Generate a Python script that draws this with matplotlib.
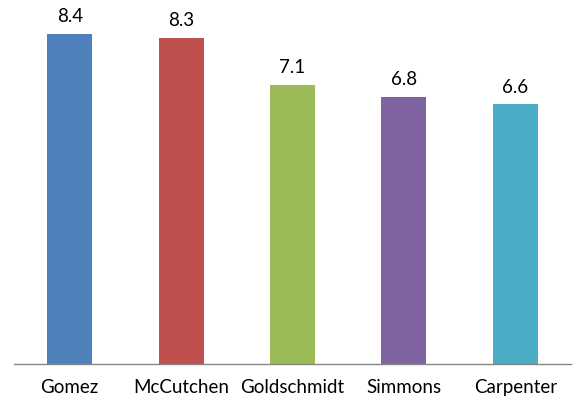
import matplotlib.pyplot as plt

names = ["Gomez", "McCutchen", "Goldschmidt", "Simmons", "Carpenter"]
scores = [8.4, 8.3, 7.1, 6.8, 6.6]
colors = ["#4F81BD", "#C0504D", "#9BBB59", "#8064A2", "#4BACC6"]

plt.rcParams['font.family'] = ['Lato', 'DejaVu Sans']

fig = plt.figure(figsize=(5.74, 4.0), dpi=100)
# axes placed in pixel terms: x 14..571, y baseline at 364
ax = fig.add_axes([14/574, (400-364)/400, 557/574, 354/400])

x = range(len(names))
bars = ax.bar(x, scores, width=0.405, color=colors)
ax.set_xlim(-0.5, len(names) - 0.5)
ax.set_ylim(0, 9)

for b, v in zip(bars, scores):
    ax.text(b.get_x() + b.get_width()/2, v + 0.22, f"{v:.1f}",
            ha="center", va="bottom", fontsize=13.5, color="black")

ax.set_xticks(list(x))
ax.set_xticklabels(names, fontsize=13.5)
ax.tick_params(axis="x", length=0, pad=11)
ax.set_yticks([])
for s in ["top", "right", "left"]:
    ax.spines[s].set_visible(False)
ax.spines["bottom"].set_color("#868686")
ax.spines["bottom"].set_linewidth(1.0)

fig.savefig("out.png", dpi=100)
